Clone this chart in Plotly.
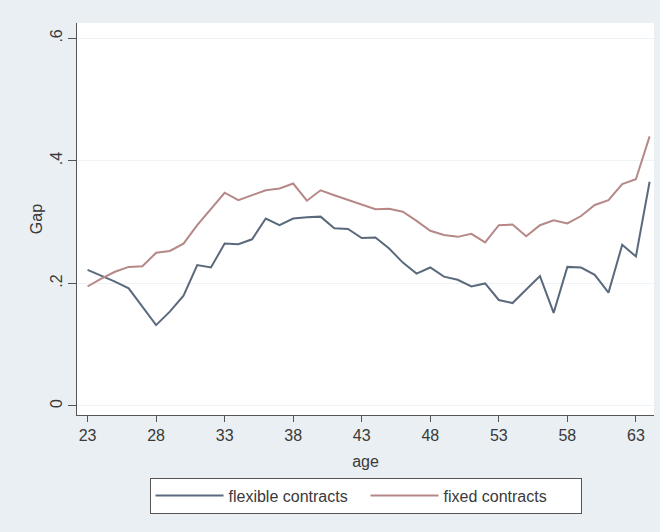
import plotly.graph_objects as go

# Age profile of the gap, by contract type
ages = list(range(23, 65))
flexible = [0.222, 0.213, 0.203, 0.192, 0.162, 0.132, 0.154, 0.180, 0.230, 0.226,
            0.265, 0.264, 0.272, 0.306, 0.295, 0.306, 0.308, 0.309, 0.290, 0.289,
            0.274, 0.275, 0.257, 0.234, 0.216, 0.226, 0.211, 0.206, 0.195, 0.200,
            0.173, 0.168, 0.190, 0.212, 0.152, 0.227, 0.226, 0.214, 0.185, 0.263,
            0.244, 0.366]
fixed = [0.195, 0.208, 0.219, 0.227, 0.228, 0.250, 0.253, 0.265, 0.295, 0.322,
         0.348, 0.336, 0.344, 0.352, 0.355, 0.363, 0.335, 0.352, 0.344, 0.336,
         0.328, 0.321, 0.322, 0.317, 0.302, 0.286, 0.279, 0.276, 0.281, 0.267,
         0.295, 0.296, 0.277, 0.295, 0.303, 0.298, 0.310, 0.328, 0.336, 0.362,
         0.370, 0.440]

x_ticks = [23, 28, 33, 38, 43, 48, 53, 58, 63]
y_ticks = [0, 0.2, 0.4, 0.6]
y_ticklabels = ["0", ".2", ".4", ".6"]

FONT = "Liberation Sans Narrow, Arial Narrow, Liberation Sans, Arial, sans-serif"
TEXT = "#3a3a3a"

fig = go.Figure()
fig.add_trace(go.Scatter(x=ages, y=flexible, mode="lines", name="flexible contracts",
                         line=dict(color="#5a6a7c", width=2)))
fig.add_trace(go.Scatter(x=ages, y=fixed, mode="lines", name="fixed contracts",
                         line=dict(color="#b68888", width=2)))

fig.update_layout(
    width=660, height=532,
    margin=dict(l=77, r=6, t=23, b=117),
    paper_bgcolor="#e9eff2",
    plot_bgcolor="#ffffff",
    font=dict(family=FONT, size=16, color=TEXT),
    showlegend=True,
    legend=dict(
        orientation="h", x=0.5, xanchor="center", y=-0.16, yanchor="top",
        bgcolor="#ffffff", bordercolor="#555555", borderwidth=1,
        font=dict(family=FONT, size=16, color=TEXT),
        itemwidth=68, entrywidth=132,
    ),
)

fig.update_xaxes(
    range=[22.23, 64.32],
    tickvals=x_ticks,
    ticks="outside", ticklen=6, tickcolor="#555555", tickwidth=1,
    showline=True, linecolor="#555555", linewidth=1,
    showgrid=False, zeroline=False,
    tickfont=dict(size=16, color=TEXT),
    title=dict(text="age", standoff=12, font=dict(size=16, color=TEXT)),
)
fig.update_yaxes(
    range=[-0.0147, 0.625],
    tickvals=y_ticks, ticktext=y_ticklabels, tickangle=-90,
    ticks="outside", ticklen=8, tickcolor="#555555", tickwidth=1,
    showline=True, linecolor="#555555", linewidth=1,
    showgrid=True, gridcolor="#f0f3f5", gridwidth=1,
    zeroline=False,
    tickfont=dict(size=16, color=TEXT),
    title=dict(text="Gap", standoff=0, font=dict(size=16, color=TEXT)),
)

fig.write_html("out.html")
